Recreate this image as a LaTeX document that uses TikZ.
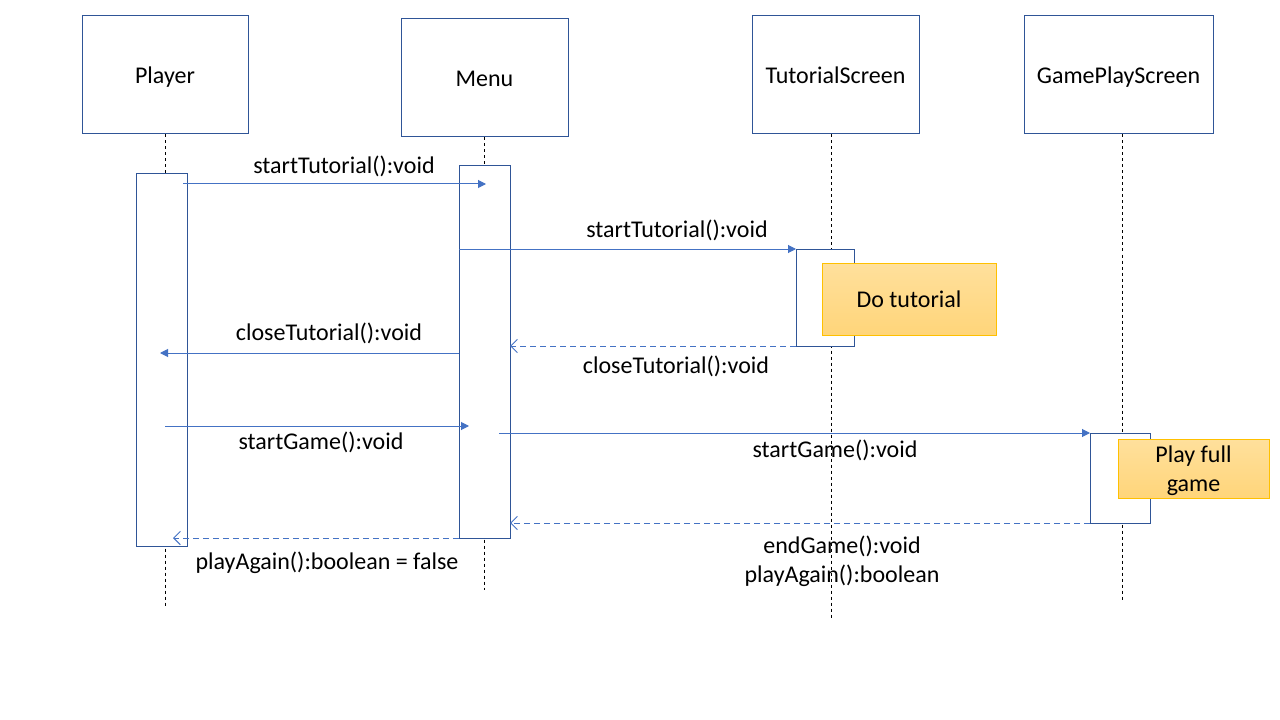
\documentclass[tikz,border=0pt]{standalone}
\usepackage{fontspec}
\setmainfont{Carlito}
\usetikzlibrary{arrows.meta,calc}
\definecolor{boxblue}{HTML}{2F5597}
\definecolor{arrblue}{HTML}{4472C4}
\definecolor{ytop}{HTML}{FFE09C}
\definecolor{ybot}{HTML}{FFD57A}
\definecolor{yborder}{HTML}{FFC000}
\begin{document}
\begin{tikzpicture}[x=0.75pt,y=-0.75pt,
  every node/.style={font=\fontsize{18}{21.75}\selectfont, inner sep=0pt},
  objbox/.style={draw=boxblue, line width=0.75pt, fill=white, minimum height=88.5pt, text height=14.5pt, text depth=2pt},
  actbox/.style={draw=boxblue, line width=0.75pt, fill=white},
  notebox/.style={draw=yborder, line width=0.75pt, top color=ytop, bottom color=ybot, align=center},
  life/.style={draw=black, line width=0.75pt, dash pattern=on 2.25pt off 2.25pt},
  msg/.style={draw=arrblue, line width=0.75pt, -{Triangle[length=6pt,width=6pt]}},
  ret/.style={draw=arrblue, line width=0.75pt, dash pattern=on 4.5pt off 3pt, -{Straight Barb[length=5pt,width=10pt]}},
  lbl/.style={text=black, align=center}]
\useasboundingbox (0,0) rectangle (1280,720);
% header boxes
\node[objbox, minimum width=124.5pt] (player) at (165,75) {Player};
\node[objbox, minimum width=125.25pt] (menu) at (484.5,78) {Menu};
\node[objbox, minimum width=125.25pt] (tut) at (835.5,75) {TutorialScreen};
\node[objbox, minimum width=141.75pt] (game) at (1118.5,75) {GamePlayScreen};
% lifelines
\coordinate (plEnd) at (165,608);
\coordinate (meEnd) at (484,590);
\coordinate (tuEnd) at (831,618);
\coordinate (gaEnd) at (1122,600);
\draw[life] (player.south -| plEnd) -- (plEnd);
\draw[life] (menu.south -| meEnd) -- (meEnd);
\draw[life] (tut.south -| tuEnd) -- (tuEnd);
\draw[life] (game.south -| gaEnd) -- (gaEnd);
% activation boxes
\node[actbox, minimum width=38.25pt, minimum height=279pt] (plAct) at (161.5,360) {};
\node[actbox, minimum width=38.25pt, minimum height=279pt] (meAct) at (484.5,352) {};
\node[actbox, minimum width=43.5pt, minimum height=72.75pt] (tuAct) at (825,297.5) {};
\node[actbox, minimum width=45pt, minimum height=67.5pt] (gaAct) at (1120,478) {};
% notes
\node[notebox, minimum width=130.5pt, minimum height=54pt] (doTut) at (909,299) {Do tutorial};
\node[notebox, minimum width=113.25pt, minimum height=44.25pt, text height=37.4pt, text depth=3.6pt] (playFull) at (1193.5,468.5) {Play full\\game};
% message endpoints
\coordinate (m1s) at (183,184); \coordinate (m1e) at (486,184);
\coordinate (m2s) at (459,249); \coordinate (m2e) at (796,249);
\coordinate (m3s) at (796,346); \coordinate (m3e) at (510,346);
\coordinate (m4s) at (459,353); \coordinate (m4e) at (160,353);
\coordinate (m5s) at (165,426); \coordinate (m5e) at (469,426);
\coordinate (m6s) at (499,433); \coordinate (m6e) at (1090,433);
\coordinate (m7s) at (1090,523); \coordinate (m7e) at (510,523);
\coordinate (m8s) at (459,538); \coordinate (m8e) at (173,538);
% messages
\draw[msg] (m1s) -- (m1e);
\draw[msg] (m2s) -- (m2e);
\draw[ret] (m3s) -- (m3e);
\draw[msg] (m4s) -- (m4e);
\draw[msg] (m5s) -- (m5e);
\draw[msg] (m6s) -- (m6e);
\draw[ret] (m7s) -- (m7e);
\draw[ret] (m8s) -- (m8e);
% labels
\node[lbl] (l1) at (344,166) {startTutorial():void};
\node[lbl] (l2) at (677,230) {startTutorial():void};
\node[lbl] (l3) at (676,366) {closeTutorial():void};
\node[lbl] (l4) at (329,333) {closeTutorial():void};
\node[lbl] (l5) at (321,442) {startGame():void};
\node[lbl] (l6) at (835,450) {startGame():void};
\node[lbl] (l7) at (842,561) {endGame():void\\playAgain():boolean};
\node[lbl] (l8) at (327,563) {playAgain():boolean = false};
\end{tikzpicture}
\end{document}
